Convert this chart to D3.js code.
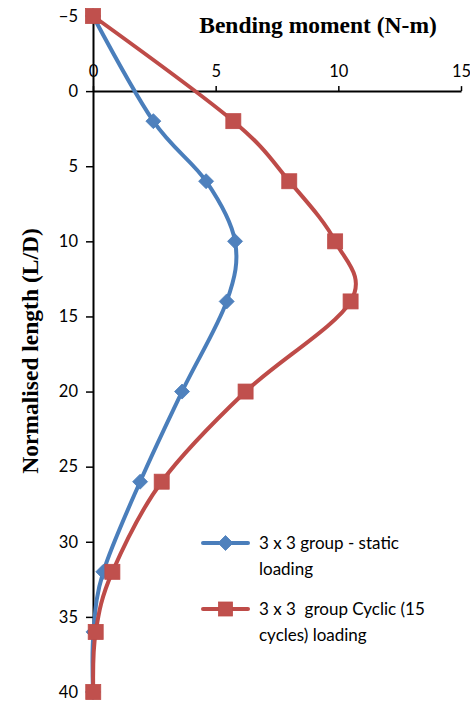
<!DOCTYPE html>
<html>
<head>
<meta charset="utf-8">
<script src="https://cdn.jsdelivr.net/npm/d3@7"></script>
<style>
  html, body { margin: 0; padding: 0; background: #fff; }
  svg { display: block; }
</style>
</head>
<body>
<svg id="chart" width="470" height="703"></svg>
<script>
// ---- data ----
const depths = [-5, 2, 6, 10, 14, 20, 26, 32, 36, 40];
const staticMoment = [0, 2.46, 4.61, 5.79, 5.45, 3.63, 1.92, 0.42, 0.02, 0.0];
const cyclicMoment = [0, 5.72, 8.0, 9.87, 10.5, 6.22, 2.80, 0.79, 0.11, 0.01];
const xTicks = [0, 5, 10, 15];
const yTicks = [-5, 0, 5, 10, 15, 20, 25, 30, 35, 40];
const seriesNames = ["3 x 3 group - static|loading", "3 x 3  group Cyclic (15|cycles) loading"];
const xTitle = "Bending moment (N-m)";
const yTitle = "Normalised length (L/D)";

// ---- layout ----
const svg = d3.select("#chart");
const x = d3.scaleLinear().domain([0, 15]).range([93, 461]);
const y = d3.scaleLinear().domain([-5, 40]).range([16, 692]);

const tickFont = "Lato, 'Open Sans', sans-serif";

// y axis
const yAxis = svg.append("g")
  .attr("transform", `translate(${x(0)},0)`)
  .call(d3.axisLeft(y).tickValues(yTicks).tickSize(7).tickSizeOuter(0).tickPadding(8));
yAxis.select(".domain").attr("stroke", "#000").attr("stroke-width", 2);
yAxis.selectAll(".tick line").attr("stroke", "#000").attr("stroke-width", 1.5);
yAxis.selectAll(".tick text").attr("font-family", tickFont).attr("font-size", 16.5).attr("fill", "#000");

// x axis on y=0
const xAxis = svg.append("g")
  .attr("transform", `translate(0,${y(0)})`)
  .call(d3.axisTop(x).tickValues(xTicks).tickSize(5).tickSizeOuter(0).tickPadding(9));
xAxis.select(".domain").attr("stroke", "#000").attr("stroke-width", 2);
xAxis.selectAll(".tick line").attr("stroke", "#000").attr("stroke-width", 1.5);
xAxis.selectAll(".tick text").attr("font-family", tickFont).attr("font-size", 16.5).attr("fill", "#000");

// titles
svg.append("text")
  .attr("x", 318).attr("y", 33)
  .attr("text-anchor", "middle")
  .attr("font-family", "'Liberation Serif', 'Times New Roman', serif")
  .attr("font-weight", "bold").attr("font-size", 23.5)
  .text(xTitle);

svg.append("text")
  .attr("transform", "translate(37.5,351) rotate(-90)")
  .attr("text-anchor", "middle")
  .attr("font-family", "'Liberation Serif', 'Times New Roman', serif")
  .attr("font-weight", "bold").attr("font-size", 23.5)
  .text(yTitle);

// series
const series = [
  { values: staticMoment, line: "#4A7EBB", fill: "#4F81BD", marker: "diamond" },
  { values: cyclicMoment, line: "#BE4B48", fill: "#C0504D", marker: "square" }
];

const lineGen = d3.line()
  .x(d => x(d.m)).y(d => y(d.L))
  .curve(d3.curveCardinal.tension(0));

function drawMarker(g, type, cx, cy, s) {
  if (type === "square") {
    g.append("rect")
      .attr("x", cx - s / 2).attr("y", cy - s / 2)
      .attr("width", s).attr("height", s)
      .attr("fill", series[1].fill).attr("stroke", series[1].line).attr("stroke-width", 0.8);
  } else {
    const h = s / 2 + 0.5;
    g.append("path")
      .attr("d", `M${cx},${cy - h}L${cx + h},${cy}L${cx},${cy + h}L${cx - h},${cy}Z`)
      .attr("fill", series[0].fill).attr("stroke", series[0].line).attr("stroke-width", 0.8);
  }
}

series.forEach(s => {
  const pts = depths.map((L, i) => ({ L, m: s.values[i] }));
  const g = svg.append("g");
  g.append("path").datum(pts)
    .attr("d", lineGen)
    .attr("fill", "none").attr("stroke", s.line)
    .attr("stroke-width", 4).attr("stroke-linejoin", "round").attr("stroke-linecap", "round");
  pts.forEach(p => drawMarker(g, s.marker, x(p.m), y(p.L), s.marker === "square" ? 15 : 14));
});

// legend
const legendRows = [{ cy: 543 }, { cy: 609 }];
series.forEach((s, i) => {
  const g = svg.append("g");
  const cy = legendRows[i].cy;
  g.append("line").attr("x1", 203).attr("x2", 248).attr("y1", cy).attr("y2", cy)
    .attr("stroke", s.line).attr("stroke-width", 4).attr("stroke-linecap", "round");
  drawMarker(g, s.marker, 225.5, cy, 14);
  const lines = seriesNames[i].split("|");
  lines.forEach((t, j) => {
    g.append("text")
      .attr("x", 259).attr("y", cy + 6 + j * 26)
      .attr("xml:space", "preserve").style("white-space", "pre")
      .attr("font-family", tickFont).attr("font-size", 17).attr("fill", "#000")
      .text(t);
  });
});
</script>
</body>
</html>
